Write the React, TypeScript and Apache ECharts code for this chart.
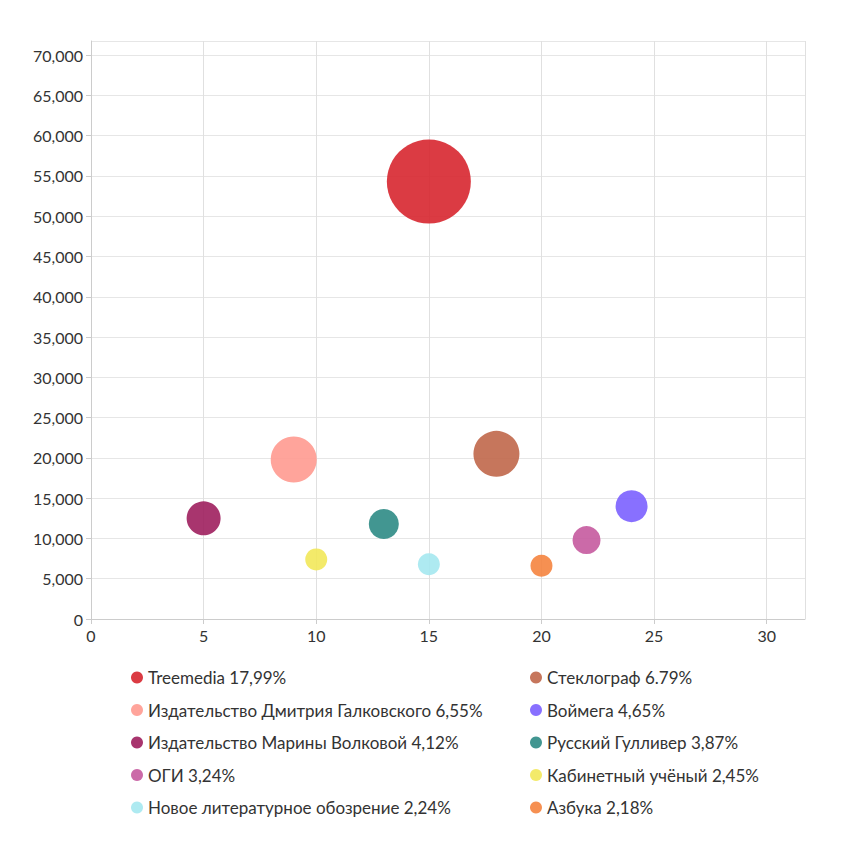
import { useEffect, useRef } from 'react'
import * as echarts from 'echarts'

const names = [
  'Treemedia 17,99%',
  'Стеклограф 6.79%',
  'Издательство Дмитрия Галковского 6,55%',
  'Воймега 4,65%',
  'Издательство Марины Волковой 4,12%',
  'Русский Гулливер 3,87%',
  'ОГИ 3,24%',
  'Кабинетный учёный 2,45%',
  'Новое литературное обозрение 2,24%',
  'Азбука 2,18%',
]
const xs = [15, 18, 9, 24, 5, 13, 22, 10, 15, 20]
const ys = [54300, 20500, 19800, 14000, 12500, 11800, 9800, 7400, 6800, 6600]
const sizes = [84, 46, 46, 32, 34, 30, 28, 22, 22, 22]
const colors = ['#d7262f', '#c0674a', '#ff9a90', '#7b61ff', '#9e1f5e', '#2e8b85', '#c55a9e', '#f2e85a', '#a5e8ef', '#f5843f']

export default function App() {
  const chartRef = useRef<HTMLDivElement>(null)

  useEffect(() => {
    if (!chartRef.current) return
    const chart = echarts.init(chartRef.current, null, { renderer: 'svg' })

    const legendBase = {
      orient: 'vertical',
      top: 656,
      itemGap: 15.5,
      icon: 'circle',
      itemWidth: 12,
      itemHeight: 12,
      textStyle: { fontFamily: 'Lato', fontSize: 17, color: '#333' },
    }

    chart.setOption({
      animation: false,
      textStyle: { fontFamily: 'Lato' },
      grid: { left: 83, top: 33, right: 46, bottom: 232 },
      legend: [
        { ...legendBase, left: 118, data: names.filter((_, i) => i % 2 === 0) },
        { ...legendBase, left: 517, data: names.filter((_, i) => i % 2 === 1) },
      ],
      xAxis: {
        type: 'value',
        min: 0,
        max: 31.7,
        interval: 5,
        axisLine: { lineStyle: { color: '#ccc' } },
        axisTick: { show: true, lineStyle: { color: '#ccc' } },
        axisLabel: { color: '#333', fontSize: 16, showMaxLabel: false },
        splitLine: { lineStyle: { color: '#e0e0e0' } },
      },
      yAxis: {
        type: 'value',
        min: 0,
        max: 71750,
        interval: 5000,
        axisLine: { show: true, lineStyle: { color: '#ccc' } },
        axisTick: { show: true, lineStyle: { color: '#ccc' } },
        axisLabel: {
          color: '#333',
          fontSize: 16,
          showMaxLabel: false,
          formatter: (v: number) => v.toLocaleString('en-US'),
        },
        splitLine: { lineStyle: { color: '#e6e6e6' } },
      },
      series: names.map((name, i) => ({
        name,
        type: 'scatter',
        data: [[xs[i], ys[i]]],
        symbolSize: sizes[i],
        itemStyle: { color: colors[i], opacity: 0.9 },
      })),
    })

    return () => chart.dispose()
  }, [])

  return <div ref={chartRef} style={{ width: 843, height: 843 }} />
}
